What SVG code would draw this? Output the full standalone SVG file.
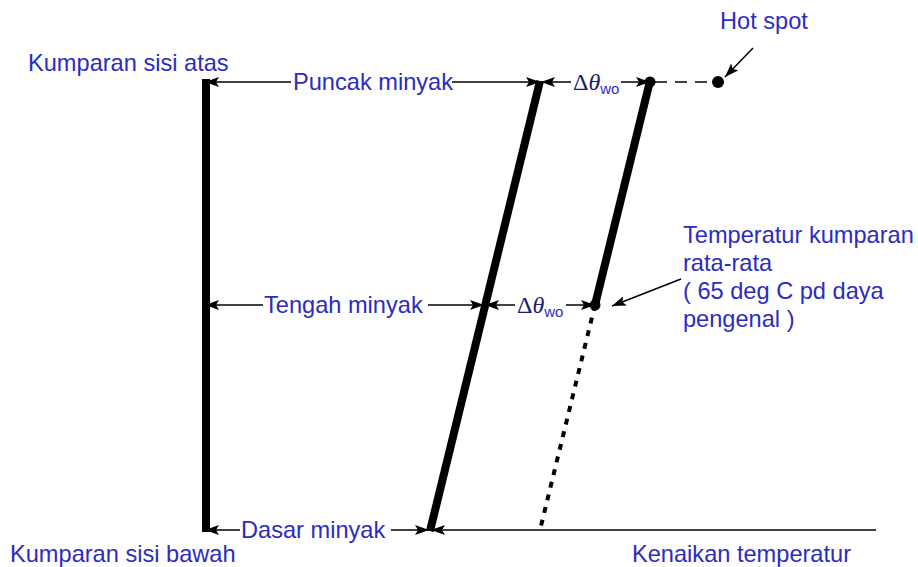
<svg xmlns="http://www.w3.org/2000/svg" width="918" height="567" viewBox="0 0 918 567">
<style>
.t{font-family:"Liberation Sans",Arial,sans-serif;font-size:23.6px;fill:#2c2cbf}
.d{font-family:"Liberation Serif","Times New Roman",serif;font-size:24px;fill:#1c1c70}
.s{font-family:"Liberation Sans",Arial,sans-serif;font-size:15px;fill:#2c2cbf}
.thick{stroke:#000;stroke-width:8;fill:none}
.thin{stroke:#000;stroke-width:1.5;fill:none}
</style>
<defs>
<marker id="ah" viewBox="0 0 14 10" refX="14" refY="5" markerWidth="14" markerHeight="10" markerUnits="userSpaceOnUse" orient="auto-start-reverse">
<path d="M0,0 L14,5 L0,10 L3,5 z" fill="#000"/>
</marker>
</defs>
<rect width="918" height="567" fill="#fff"/>
<g id="connectors">
<line class="thin" x1="205" y1="82" x2="291" y2="82" marker-start="url(#ah)"/>
<line class="thin" x1="452" y1="82" x2="540" y2="82" marker-end="url(#ah)"/>
<line class="thin" x1="541" y1="82" x2="571" y2="82" marker-start="url(#ah)"/>
<line class="thin" x1="621" y1="82" x2="650" y2="82" marker-end="url(#ah)"/>
<line class="thin" x1="655" y1="82" x2="712" y2="82" stroke-dasharray="12,8"/>
<line class="thin" x1="205" y1="305" x2="263" y2="305" marker-start="url(#ah)"/>
<line class="thin" x1="428" y1="305" x2="484" y2="305" marker-end="url(#ah)"/>
<line class="thin" x1="485" y1="305" x2="515" y2="305" marker-start="url(#ah)"/>
<line class="thin" x1="566" y1="305" x2="595" y2="305" marker-end="url(#ah)"/>
<line class="thin" x1="205" y1="530" x2="240" y2="530" marker-start="url(#ah)"/>
<line class="thin" x1="391" y1="530" x2="429" y2="530" marker-end="url(#ah)"/>
<line class="thin" x1="431" y1="530" x2="876" y2="530" marker-start="url(#ah)"/>
<line class="thin" x1="753" y1="48" x2="725" y2="77" marker-end="url(#ah)"/>
<line class="thin" x1="681" y1="279" x2="612" y2="306" marker-end="url(#ah)"/>
</g>
<g id="coil-axis">
<line class="thick" x1="206" y1="79" x2="206" y2="532"/>
<text class="t" x="28" y="71">Kumparan sisi atas</text>
<text class="t" x="10" y="562">Kumparan sisi bawah</text>
</g>
<g id="oil-line">
<line class="thick" x1="540" y1="81" x2="430" y2="531"/>
</g>
<g id="winding-line">
<line class="thick" x1="650" y1="81" x2="595" y2="305"/>
<line x1="595" y1="305" x2="540" y2="530" stroke="#000" stroke-width="4" stroke-dasharray="6,7"/>
<circle cx="650" cy="82" r="5.5" fill="#000"/>
<circle cx="595" cy="305" r="5.5" fill="#000"/>
</g>
<g id="hot-spot">
<circle cx="718" cy="82" r="6" fill="#000"/>
<text class="t" x="720" y="29">Hot spot</text>
</g>
<g id="label-puncak"><text class="t" x="293" y="90">Puncak minyak</text></g>
<g id="label-tengah"><text class="t" x="264" y="313">Tengah minyak</text></g>
<g id="label-dasar"><text class="t" x="241" y="538">Dasar minyak</text></g>
<g id="dtheta-top"><text x="573" y="90"><tspan class="d">Δ<tspan font-style="italic">θ</tspan></tspan><tspan class="s" dy="4">wo</tspan></text></g>
<g id="dtheta-mid"><text x="517" y="313"><tspan class="d">Δ<tspan font-style="italic">θ</tspan></tspan><tspan class="s" dy="4">wo</tspan></text></g>
<g id="avg-temp">
<text class="t" x="683" y="243">Temperatur kumparan</text>
<text class="t" x="683" y="271">rata-rata</text>
<text class="t" x="683" y="299">( 65 deg C pd daya</text>
<text class="t" x="683" y="327">pengenal )</text>
</g>
<g id="axis-label"><text class="t" x="632" y="562">Kenaikan temperatur</text></g>
</svg>
